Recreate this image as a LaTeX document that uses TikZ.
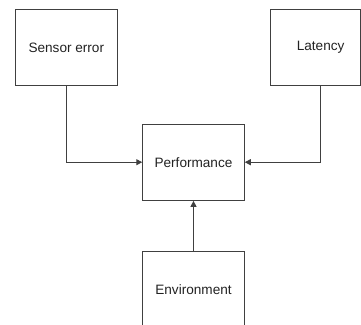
\documentclass[tikz,border=0pt]{standalone}
\usepackage{fontspec}
\setmainfont{Liberation Sans}
\usetikzlibrary{arrows.meta}
\definecolor{linec}{HTML}{404040}
\definecolor{textc}{HTML}{222222}
\tikzset{
  box/.style={draw=linec, line width=1pt, minimum width=101.5pt, minimum height=76.3pt, inner sep=0pt, text=textc, font=\fontsize{13.6}{16}\selectfont},
  conn/.style={draw=linec, line width=1pt, -{Triangle[length=6pt,width=6pt]}}
}
\begin{document}
\begin{tikzpicture}[x=1pt,y=-1pt]
\useasboundingbox (0,0) rectangle (361,324);
\clip (0,0) rectangle (361,324);
\node[box] (sensor) at (66.3,47.5) {Sensor error};
\node[box, minimum width=90.2pt] (lat) at (315.1,47.5) {\hspace*{11pt}Latency};
\node[box] (perf) at (193.5,162.2) {Performance};
\node[box] (env) at (193.5,289.8) {Environment};
\draw[conn] ([xshift=5.6pt]lat.south) |- (perf.east);
\draw[conn] (sensor.south) |- (perf.west);
\draw[conn] (env.north) -- (perf.south);
\end{tikzpicture}
\end{document}
